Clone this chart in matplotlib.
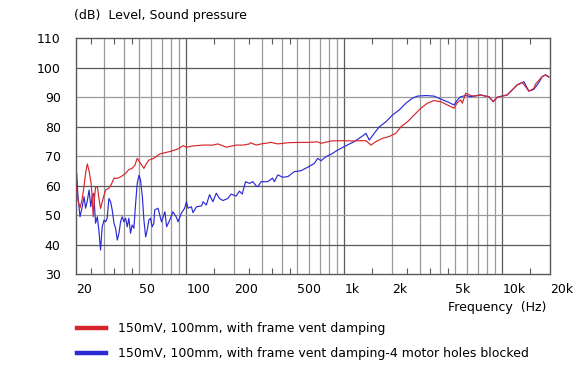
import matplotlib
matplotlib.use("Agg")
import matplotlib.pyplot as plt
from matplotlib.lines import Line2D

plt.rcParams["font.family"] = ["DejaVu Sans"]
plt.rcParams["font.size"] = 9

# frame vent damping (red)
red_freq = [20.2, 20.6, 21.2, 21.8, 22.5, 23.1, 23.6, 24.2, 24.9, 25.3, 25.7, 26.2, 26.6, 27.3,
            27.9, 28.6, 29.6, 30.8, 32.3, 33.5, 34.8, 36.3, 38.3, 41.2, 43.2, 45.3, 47.2, 48.8,
            51.2, 53.8, 55.7, 57.8, 62.2, 67.8, 78.4, 88.5, 95.2, 100, 110, 127, 147, 158, 179,
            207, 228, 251, 254, 277, 297, 344, 379, 438, 506, 586, 677, 711, 823, 952, 1155,
            1242, 1368, 1472, 1583, 1742, 1919, 2116, 2277, 2506, 2762, 3045, 3350, 3694, 4070,
            4482, 4940, 5184, 5446, 5574, 5856, 6298, 6608, 7282, 7830, 8216, 8746, 9268, 9966,
            10720, 11532, 12400, 13336, 14010, 14696, 15806, 16202, 17834, 18736, 19652]
red_db = [59.5, 55.0, 52.5, 55.0, 60.0, 65.0, 67.4, 65.0, 61.0, 56.3, 49.5, 56.0, 59.5, 59.7,
          56.0, 52.3, 55.5, 58.6, 59.2, 60.5, 62.6, 62.5, 63.0, 64.2, 65.5, 65.9, 67.0, 69.3,
          67.6, 65.9, 67.5, 68.7, 69.3, 70.8, 71.6, 72.5, 73.6, 73.1, 73.5, 73.8, 73.8, 74.2, 73.1,
          73.8, 73.8, 74.2, 74.6, 73.8, 74.2, 74.7, 74.2, 74.6, 74.7, 74.7, 74.9, 74.4, 75.2, 75.3, 75.2,
          75.3, 75.3, 73.8, 75.0, 76.1, 76.7, 77.8, 80.0, 81.7, 84.0, 86.3, 88.0, 88.9, 88.5,
          87.4, 86.3, 88.2, 89.1, 88.0, 91.4, 90.6, 90.4, 90.8, 90.4, 90.2, 88.5, 90.0, 90.4,
          90.8, 92.5, 94.2, 95.0, 93.6, 92.1, 93.0, 94.5, 97.0, 97.6, 96.8]

# frame vent damping, 4 motor holes blocked (blue)
blue_freq = [20.2, 20.6, 21.2, 21.9, 22.5, 23.0, 23.6, 24.2, 24.8, 25.3, 25.9, 26.6, 27.3, 27.9,
             28.6, 29.3, 30.1, 30.8, 31.5, 32.3, 33.1, 33.9, 34.8, 35.6, 36.5, 37.4, 38.3, 39.2,
             40.2, 41.2, 42.2, 43.2, 44.3, 45.3, 46.5, 47.6, 48.8, 50.1, 51.2, 52.6, 53.8, 55.2,
             56.5, 57.8, 59.2, 60.7, 62.2, 63.0, 66.1, 69.5, 73.1, 74.9, 78.4, 82.1, 86.1, 88.5,
             92.8, 97.4, 100, 102.4, 107.5, 110, 115.8, 124.6, 127.3, 133.6, 140.1, 147, 154.5,
             162.1, 170.1, 182.7, 191.8, 206, 216.4, 225.4, 236.7, 251, 263, 277, 283.5, 297, 327,
             351, 360, 379, 407, 438, 482, 530, 586, 646, 677, 711, 765, 823, 906, 998, 1155, 1303,
             1368, 1436, 1544, 1661, 1830, 2015, 2222, 2448, 2694, 2898, 3274, 3694, 4070, 4482,
             4940, 5184, 5446, 5856, 6298, 6608, 7282, 7830, 8216, 8746, 9268, 9966, 10720,
             11532, 12400, 13670, 14696, 15806, 17000, 17834, 18736, 19652]
blue_db = [64.2, 56.3, 49.5, 52.9, 56.3, 52.4, 55.0, 58.6, 52.9, 56.3, 57.5, 47.3, 49.5, 45.0,
           38.2, 46.1, 48.4, 47.8, 49.0, 55.7, 54.6, 51.8, 47.3, 45.6, 41.6, 43.9, 47.8, 49.5,
           47.8, 49.0, 46.1, 49.0, 43.9, 46.7, 45.6, 53.5, 60.8, 63.6, 62.0, 56.3, 48.4, 42.7,
           45.0, 48.4, 49.0, 46.1, 47.3, 51.8, 52.4, 47.8, 51.2, 46.1, 48.4, 51.2, 49.5, 47.8,
           50.7, 52.4, 54.6, 52.4, 52.9, 50.9, 52.9, 53.2, 54.6, 53.5, 57.0, 54.6, 57.5,
           55.7, 55.0, 55.7, 57.2, 56.5, 58.2, 57.2, 61.4, 60.8, 61.4, 59.9, 59.7, 61.4, 61.4,
           62.6, 61.4, 63.7, 62.9, 63.1, 64.8, 65.1, 66.3, 67.6, 69.3, 68.5, 69.9, 70.7, 72.1, 73.3, 75.0, 76.9,
           77.8, 75.5, 77.8, 80.0, 81.7, 84.0, 85.7, 88.0, 89.7, 90.4, 90.6, 90.4, 89.4, 88.5,
           87.4, 89.1, 90.2, 90.6, 90.2, 90.4, 90.8, 90.4, 90.2, 88.5, 90.0, 90.4, 90.8,
           92.5, 94.2, 95.3, 92.1, 92.7, 95.0, 97.0, 97.6, 97.0]

x_ticks = [20, 50, 100, 200, 500, 1000, 2000, 5000, 10000, 20000]
x_tick_labels = ["20", "50", "100", "200", "500", "1k", "2k", "5k", "10k", "20k"]
y_ticks = [30, 40, 50, 60, 70, 80, 90, 100, 110]
labels = ["150mV, 100mm, with frame vent damping",
          "150mV, 100mm, with frame vent damping-4 motor holes blocked"]

RED = "#d7262b"
BLUE = "#2b2bd6"
DARK = "#5a5a5a"
LIGHT = "#9a9a9a"

fig = plt.figure(figsize=(5.78, 3.9), dpi=100)
ax = fig.add_axes([76 / 578, 1 - 274.3 / 390, 474 / 578, 236 / 390])

# grid, decades darker
for f in [30, 40, 50, 60, 70, 80, 90, 200, 300, 400, 500, 600, 700, 800, 900,
          2000, 3000, 4000, 5000, 6000, 7000, 8000, 9000]:
    ax.axvline(f, color=LIGHT, lw=0.9, zorder=1)
for f in [100, 1000, 10000]:
    ax.axvline(f, color=DARK, lw=0.9, zorder=1)
for v in [40, 50, 60, 70, 80, 90, 100]:
    ax.axhline(v, color=DARK if v % 20 == 0 else LIGHT, lw=0.9, zorder=1)

ax.plot(red_freq, red_db, color=RED, lw=0.85, zorder=3)
ax.plot(blue_freq, blue_db, color=BLUE, lw=0.85, zorder=2)

ax.set_xscale("log")
ax.set_xlim(20, 20000)
ax.set_ylim(30, 110)
ax.set_xticks(x_ticks, x_tick_labels)
ax.set_xticks([25, 35, 45, 150, 250, 350, 450, 1500, 2500, 3500, 4500, 15000], minor=True)
ax.set_yticks(y_ticks)
for lab in ax.get_xticklabels():
    lab.set_horizontalalignment("left")
ax.tick_params(which="major", length=0, pad=6, labelcolor="black")
ax.tick_params(axis="y", pad=11)
ax.tick_params(which="minor", direction="in", length=4, width=0.8, color=DARK,
               top=True, bottom=True, labelbottom=False)
for sp in ax.spines.values():
    sp.set_color(DARK)
    sp.set_linewidth(1.0)

fig.text(74 / 578, 1 - 16 / 390, "(dB)  Level, Sound pressure", va="center", ha="left")
fig.text(546 / 578, 1 - 307 / 390, "Frequency  (Hz)", va="center", ha="right")

handles = [Line2D([], [], color=RED, lw=3.2), Line2D([], [], color=BLUE, lw=3.2)]
fig.legend(handles, labels, loc="upper left", bbox_to_anchor=(77 / 578, 1 - 322 / 390),
           frameon=False, handlelength=2.3, handletextpad=1.0, labelspacing=0.95,
           borderpad=0, borderaxespad=0)

fig.savefig("out.png", dpi=100)
